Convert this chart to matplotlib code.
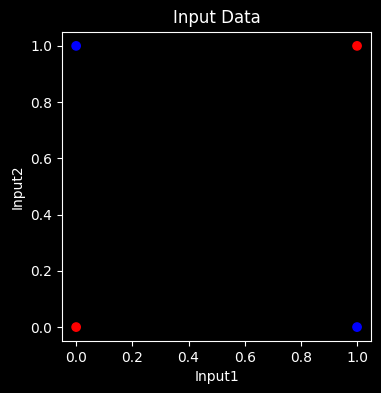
import matplotlib
matplotlib.use("Agg")
import matplotlib.pyplot as plt

# XOR inputs and their classes
input1 = [0, 0, 1, 1]
input2 = [0, 1, 0, 1]
colors = ["red", "blue", "blue", "red"]

plt.style.use("dark_background")

fig = plt.figure(figsize=(3.81, 3.93), dpi=100)
ax = fig.add_axes([0.163, 0.132, 0.811, 0.787])

ax.scatter(input1, input2, c=colors)
ax.set_title("Input Data")
ax.set_xlabel("Input1")
ax.set_ylabel("Input2")

fig.savefig("out.png", dpi=100)
plt.close(fig)
